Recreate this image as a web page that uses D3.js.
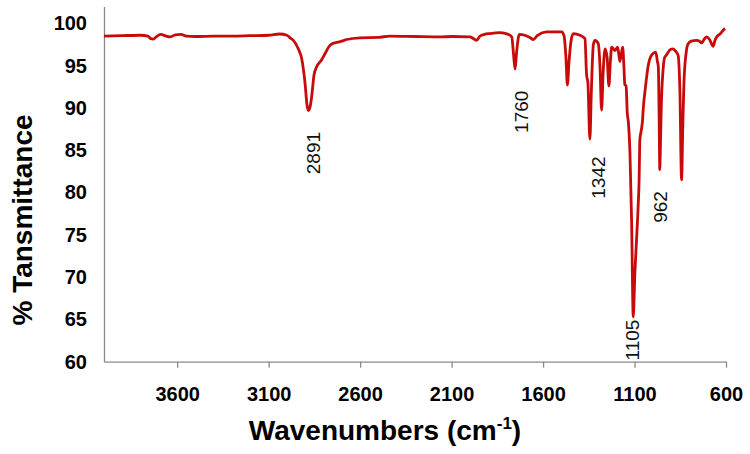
<!DOCTYPE html>
<html>
<head>
<meta charset="utf-8">
<script src="https://cdn.jsdelivr.net/npm/d3@7"></script>
<style>
  html, body { margin: 0; padding: 0; background: #fff; }
  svg { display: block; }
  text { font-family: "Liberation Sans", Arial, sans-serif; }
</style>
</head>
<body>
<svg id="chart" width="750" height="454"></svg>
<script>
// ---- data ----
const wavenumbers = [
  4000, 3900, 3800, 3760, 3745, 3730, 3715, 3690, 3660, 3640, 3610, 3580, 3550, 3500, 3400, 3300, 3200, 3100, 3040, 3000,
  2983, 2965, 2938, 2920, 2901, 2890, 2883, 2875, 2865, 2852, 2837, 2810, 2790, 2765, 2740, 2728, 2700, 2673, 2600, 2500,
  2437, 2300, 2163, 2100, 2000, 1980, 1963, 1945, 1920, 1890, 1835, 1790, 1771, 1762, 1753, 1745, 1730, 1700, 1670, 1653,
  1630, 1580, 1498, 1485, 1475, 1467, 1458, 1445, 1434, 1398, 1371, 1362, 1355, 1344, 1336, 1325, 1316, 1298, 1289, 1280,
  1272, 1261, 1250, 1240, 1232, 1225, 1207, 1192, 1180, 1165, 1158, 1153, 1146, 1140, 1134, 1125, 1116, 1107, 1098, 1090,
  1080, 1075, 1073, 1071, 1062, 1056, 1053, 1040, 1026, 1007, 984, 975, 970, 965, 962, 958, 954, 944, 935, 926,
  905, 890, 875, 862, 852, 843, 836, 830, 818, 807, 790, 761, 745, 733, 720, 706, 690, 670, 660, 651,
  630, 611, 605
];
const transmittance = [
  98.5, 98.55, 98.6, 98.5, 98.2, 98.15, 98.4, 98.7, 98.5, 98.4, 98.65, 98.7, 98.5, 98.45, 98.5, 98.5, 98.55, 98.6, 98.75, 98.6,
  98.3, 98.0, 97.0, 95.9, 92.9, 90.3, 89.7, 90.0, 91.3, 93.9, 94.9, 95.7, 96.5, 97.4, 97.7, 97.75, 97.9, 98.1, 98.3, 98.35,
  98.5, 98.45, 98.4, 98.45, 98.4, 98.2, 98.0, 98.5, 98.7, 98.8, 98.9, 98.7, 98.4, 96.5, 94.6, 96.5, 98.7, 98.6, 98.3, 98.1,
  98.6, 99.0, 99.0, 98.5, 96.0, 92.7, 95.5, 98.2, 98.8, 98.6, 98.2, 93.9, 93.0, 86.3, 92.0, 97.5, 98.0, 97.6, 95.0, 89.75,
  94.0, 97.0, 96.0, 92.6, 95.5, 97.2, 96.8, 97.2, 95.5, 97.2, 94.9, 92.75, 92.6, 89.5, 88.4, 84.7, 76.7, 65.3, 70.5, 74.0,
  78.5, 81.5, 84.0, 86.2, 87.5, 88.6, 89.7, 92.5, 94.9, 96.25, 96.6, 95.5, 94.9, 88.0, 82.7, 86.0, 90.0, 94.5, 96.0, 96.25,
  96.9, 97.0, 96.7, 96.25, 92.0, 81.5, 88.0, 92.9, 96.5, 97.6, 97.9, 98.0, 97.9, 97.7, 98.1, 98.4, 98.1, 97.3, 98.0, 98.4,
  98.8, 99.3, 99.4
];
const xTicks = [3600, 3100, 2600, 2100, 1600, 1100, 600];
const yTicks = [60, 65, 70, 75, 80, 85, 90, 95, 100];
// peak labels: text and the label centre in data units (wavenumber, %T)
const peakLabels = ["2891", "1760", "1342", "962", "1105"];
const peakLabelWn = [2857, 1717, 1298, 961, 1115];
const peakLabelT = [84.67, 89.55, 81.77, 78.3, 62.56];

const xTitle = "Wavenumbers (cm";
const xTitleSup = "-1";
const yTitle = "% Tansmittance";

// ---- drawing ----
const svg = d3.select("#chart");
const x = d3.scaleLinear().domain([4000, 600]).range([104, 726]);
const y = d3.scaleLinear().domain([60, 102]).range([361.7, 6.5]);

const axisColor = "#8a8a8a";

// X axis
const gx = svg.append("g").attr("transform", `translate(0,${y(60)})`)
  .call(d3.axisBottom(x).tickValues(xTicks).tickFormat(d3.format("d"))
    .tickSize(6).tickSizeOuter(0).tickPadding(19.6));
gx.select(".domain").attr("stroke", axisColor).attr("stroke-width", 1.3);
gx.selectAll(".tick line").attr("stroke", axisColor).attr("stroke-width", 1.3);
gx.selectAll(".tick text").attr("fill", "#000").attr("font-size", 20).attr("font-weight", "bold")
  .attr("font-family", "'Liberation Sans', Arial, sans-serif");

// Y axis
const gy = svg.append("g").attr("transform", `translate(${x(4000)},0)`)
  .call(d3.axisLeft(y).tickValues(yTicks).tickFormat(d3.format("d"))
    .tickSize(0).tickSizeOuter(0).tickPadding(17));
gy.select(".domain").attr("stroke", axisColor).attr("stroke-width", 1.3);
gy.selectAll(".tick text").attr("fill", "#000").attr("font-size", 20).attr("font-weight", "bold")
  .attr("font-family", "'Liberation Sans', Arial, sans-serif");

// Spectrum line
const pts = wavenumbers.map((w, i) => [w, transmittance[i]]);
const line = d3.line().x(d => x(d[0])).y(d => y(d[1])).curve(d3.curveMonotoneX);
svg.append("path").datum(pts)
  .attr("d", line)
  .attr("fill", "none")
  .attr("stroke", "#c80a0a")
  .attr("stroke-width", 2.8)
  .attr("stroke-linejoin", "round");

// Peak labels
peakLabels.forEach((t, i) => {
  svg.append("text")
    .attr("transform", `translate(${x(peakLabelWn[i])},${y(peakLabelT[i])}) rotate(-90)`)
    .attr("text-anchor", "middle")
    .attr("dy", "0.36em")
    .attr("font-size", 19)
    .attr("fill", "#111")
    .text(t);
});

// Axis titles
const xt = svg.append("text")
  .attr("x", 385).attr("y", 440)
  .attr("text-anchor", "middle")
  .attr("font-size", 28).attr("font-weight", "bold").attr("fill", "#000");
xt.append("tspan").text(xTitle);
xt.append("tspan").attr("font-size", 17).attr("dy", -11).text(xTitleSup);
xt.append("tspan").attr("dy", 11).text(")");

svg.append("text")
  .attr("transform", "translate(32,220) rotate(-90)")
  .attr("text-anchor", "middle")
  .attr("font-size", 28).attr("font-weight", "bold").attr("fill", "#000")
  .text(yTitle);
</script>
</body>
</html>
